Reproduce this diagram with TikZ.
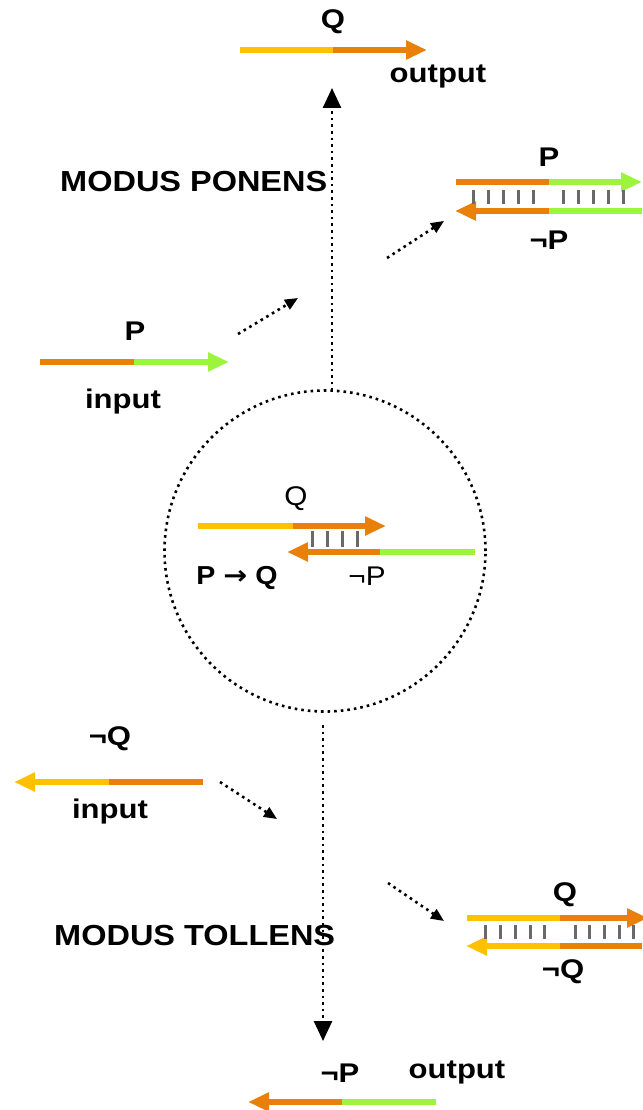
\documentclass[tikz,border=0pt]{standalone}
\usepackage{fontspec}
\setmainfont{Liberation Sans}
\newfontfamily\dvfont{DejaVu Sans}
\usetikzlibrary{arrows.meta}
\definecolor{cY}{RGB}{255,192,0}
\definecolor{cO}{RGB}{232,128,10}
\definecolor{cG}{RGB}{156,244,60}
\definecolor{cT}{RGB}{105,105,105}
\tikzset{
  strand/.style={line width=6pt},
  headR/.style={-{Triangle[length=21pt,width=18pt]}},
  tick/.style={draw=cT,line width=3pt},
  dots/.style={line width=2.6pt,dash pattern=on 2.6pt off 4pt},
  dotarrow/.style={dots,-{Triangle[length=13pt,width=11pt]}},
  bigdotarrow/.style={dots,-{Triangle[length=20pt,width=18pt]}},
  lab/.style={font=\bfseries\fontsize{27}{30}\selectfont,xscale=1.15,inner sep=0pt},
  title/.style={font=\bfseries\fontsize{29}{32}\selectfont,xscale=1.12,inner sep=0pt},
  labn/.style={font=\fontsize{27}{30}\selectfont,xscale=1.1,inner sep=0pt},
  ring/.style={circle,draw,line width=2.6pt,dash pattern=on 2.6pt off 4pt,minimum size=321pt,inner sep=0pt},
}
\begin{document}
\begin{tikzpicture}[x=1pt,y=-1pt]
\useasboundingbox (0,0) rectangle (642,1110);

% central circle
\node[ring] (ring) at (325,551) {};

% ---------- top output Q
\draw[strand,cY] (240,50) -- (333,50);
\draw[strand,cO,headR] (333,50) -- (427,50);
\node[lab] (qtop) at (333,22) {Q};
\node[lab] (outtop) at (438,76) {output};

\node[title,anchor=west] (mp) at (60,182) {MODUS PONENS};

% ---------- upper right duplex
\draw[strand,cO] (456,182) -- (549,182);
\draw[strand,cG,headR] (549,182) -- (642,182);
\draw[strand,cG] (549,211) -- (642,211);
\draw[strand,cO,headR] (549,211) -- (455,211);
\foreach \x in {473,488,503,518,533,563,578,593,608,623}
  \draw[tick] (\x,190) -- (\x,204);
\node[lab] (pur) at (549,157) {P};
\node[lab] (npur) at (549,240) {¬P};

% ---------- P input
\draw[strand,cO] (40,362) -- (134,362);
\draw[strand,cG,headR] (134,362) -- (229,362);
\node[lab] (pin) at (135,331) {P};
\node[lab] (inp1) at (123,402) {input};

% ---------- inside circle
\draw[strand,cY] (198,526) -- (293,526);
\draw[strand,cO,headR] (293,526) -- (386,526);
\draw[strand,cG] (380,552) -- (475,552);
\draw[strand,cO,headR] (380,552) -- (287,552);
\foreach \x in {312,327,342,357}
  \draw[tick] (\x,531) -- (\x,547);
\node[labn] (qc) at (296,499) {Q};
\node[labn] (npc) at (367,576) {¬P};
\node[font=\bfseries\fontsize{26}{28}\selectfont,xscale=1.1,inner sep=0pt] (impl) at (237,578) {P {\dvfont\bfseries →} Q};

% ---------- not Q input
\draw[strand,cO] (109,782) -- (203,782);
\draw[strand,cY,headR] (109,782) -- (14,782);
\node[lab] (nq) at (110,739) {¬Q};
\node[lab] (inp2) at (110,812) {input};

\node[title,anchor=west] (mt) at (54,936) {MODUS TOLLENS};

% ---------- lower right duplex
\draw[strand,cY] (467,918) -- (560,918);
\draw[strand,cO,headR] (560,918) -- (648,918);
\draw[strand,cO] (560,946) -- (642,946);
\draw[strand,cY,headR] (560,946) -- (466,946);
\foreach \x in {485,500,515,530,544,575,589,604,619,633}
  \draw[tick] (\x,925) -- (\x,939);
\node[lab] (qlr) at (565,895) {Q};
\node[lab] (nqlr) at (563,972) {¬Q};

% ---------- bottom output not P
\draw[strand,cG] (342,1102) -- (436,1102);
\draw[strand,cO,headR] (342,1102) -- (248,1102);
\node[lab] (npout) at (340,1073) {¬P};
\node[lab] (outbot) at (457,1072) {output};

% ---------- dotted connectors
\coordinate (a1s) at (238,334);
\coordinate (a1e) at (298,298);
\coordinate (a2s) at (387,258);
\coordinate (a2e) at (444,221);
\coordinate (a3s) at (220,782);
\coordinate (a3e) at (277,819);
\coordinate (a4s) at (388,883);
\coordinate (a4e) at (444,921);
\coordinate (vts) at (332,391);
\coordinate (vte) at (332,88);
\coordinate (vbs) at (323,725);
\coordinate (vbe) at (323,1041);
\draw[dotarrow] (a1s) -- (a1e);
\draw[dotarrow] (a2s) -- (a2e);
\draw[dotarrow] (a3s) -- (a3e);
\draw[dotarrow] (a4s) -- (a4e);
\draw[bigdotarrow] (vts) -- (vte);
\draw[bigdotarrow] (vbs) -- (vbe);
\end{tikzpicture}
\end{document}
